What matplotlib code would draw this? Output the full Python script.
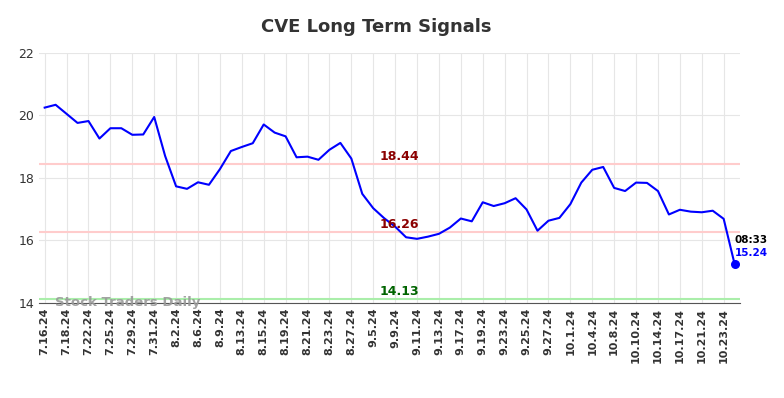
import matplotlib
matplotlib.use("Agg")
from matplotlib import pyplot as plt

# dates (trading days) and close prices
dates = ['7.16.24', '7.17.24', '7.18.24', '7.19.24', '7.22.24', '7.24.24', '7.25.24', '7.26.24',
         '7.29.24', '7.30.24', '7.31.24', '8.1.24', '8.2.24', '8.5.24', '8.6.24', '8.8.24',
         '8.9.24', '8.12.24', '8.13.24', '8.14.24', '8.15.24', '8.16.24', '8.19.24', '8.20.24',
         '8.21.24', '8.22.24', '8.23.24', '8.26.24', '8.27.24', '8.29.24', '9.5.24', '9.6.24',
         '9.9.24', '9.10.24', '9.11.24', '9.12.24', '9.13.24', '9.16.24', '9.17.24', '9.18.24',
         '9.19.24', '9.20.24', '9.23.24', '9.24.24', '9.25.24', '9.26.24', '9.27.24', '9.30.24',
         '10.1.24', '10.3.24', '10.4.24', '10.7.24', '10.8.24', '10.9.24', '10.10.24', '10.11.24',
         '10.14.24', '10.16.24', '10.17.24', '10.18.24', '10.21.24', '10.22.24', '10.23.24', '10.24.24']
prices = [20.25, 20.34, 20.05, 19.76, 19.82, 19.26, 19.59, 19.59,
          19.38, 19.39, 19.95, 18.70, 17.73, 17.65, 17.86, 17.78,
          18.28, 18.86, 18.99, 19.11, 19.71, 19.45, 19.33, 18.66,
          18.68, 18.58, 18.90, 19.12, 18.62, 17.49, 17.03, 16.71,
          16.44, 16.10, 16.05, 16.12, 16.21, 16.41, 16.70, 16.61,
          17.22, 17.10, 17.19, 17.35, 16.99, 16.31, 16.63, 16.72,
          17.16, 17.85, 18.26, 18.35, 17.68, 17.58, 17.85, 17.84,
          17.58, 16.83, 16.98, 16.92, 16.90, 16.95, 16.69, 15.24]
upper_signal = 18.44
lower_signal = 16.26
support = 14.13
last_time = '08:33'

fig = plt.figure(figsize=(7.84, 3.98), dpi=100)
ax = fig.add_axes([0.05, 0.239, 0.894, 0.628])

x = list(range(len(prices)))
ax.plot(x, prices, color='blue', linewidth=1.5, zorder=3)
ax.scatter([x[-1]], [prices[-1]], color='blue', s=30, zorder=4)

# signal lines
ax.axhline(upper_signal, color='#ffcccc', linewidth=1.5, zorder=2)
ax.axhline(lower_signal, color='#ffcccc', linewidth=1.5, zorder=2)
ax.axhline(support, color='#aaeeaa', linewidth=1.5, zorder=2)

mid = 32.4
ax.text(mid, upper_signal + 0.03, f'{upper_signal:.2f}', color='#8b0000', fontsize=9,
        fontweight='bold', ha='center', va='bottom')
ax.text(mid, lower_signal + 0.03, f'{lower_signal:.2f}', color='#8b0000', fontsize=9,
        fontweight='bold', ha='center', va='bottom')
ax.text(mid, support + 0.03, f'{support:.2f}', color='#006400', fontsize=9,
        fontweight='bold', ha='center', va='bottom')

# last value annotation
ax.text(x[-1], prices[-1] + 0.6, last_time, color='black', fontsize=7.5,
        fontweight='bold', ha='left', va='bottom')
ax.text(x[-1], prices[-1] + 0.2, f'{prices[-1]:.2f}', color='blue', fontsize=7.5,
        fontweight='bold', ha='left', va='bottom')

ax.text(0.9, 14.02, 'Stock Traders Daily', color='#999999', fontsize=9.5,
        fontweight='bold', ha='left', va='center', alpha=0.9)

ax.set_xlim(-0.5, len(prices) - 0.5)
ax.set_ylim(14, 22)
ax.set_yticks([14, 16, 18, 20, 22])
ax.set_xticks(x[::2])
ax.set_xticklabels(dates[::2], rotation=90, fontsize=8, fontweight='bold')
ax.tick_params(axis='y', labelsize=9, length=0, colors='#333333')
ax.tick_params(axis='x', length=0, colors='#333333')
ax.grid(True, color='#e6e6e6', linewidth=0.8)
for s in ['top', 'right', 'left']:
    ax.spines[s].set_visible(False)
ax.spines['bottom'].set_color('#555555')

fig.suptitle('CVE Long Term Signals', x=0.48, y=0.955, fontsize=13, fontweight='bold',
             color='#333333')

fig.savefig('out.png', dpi=100)
